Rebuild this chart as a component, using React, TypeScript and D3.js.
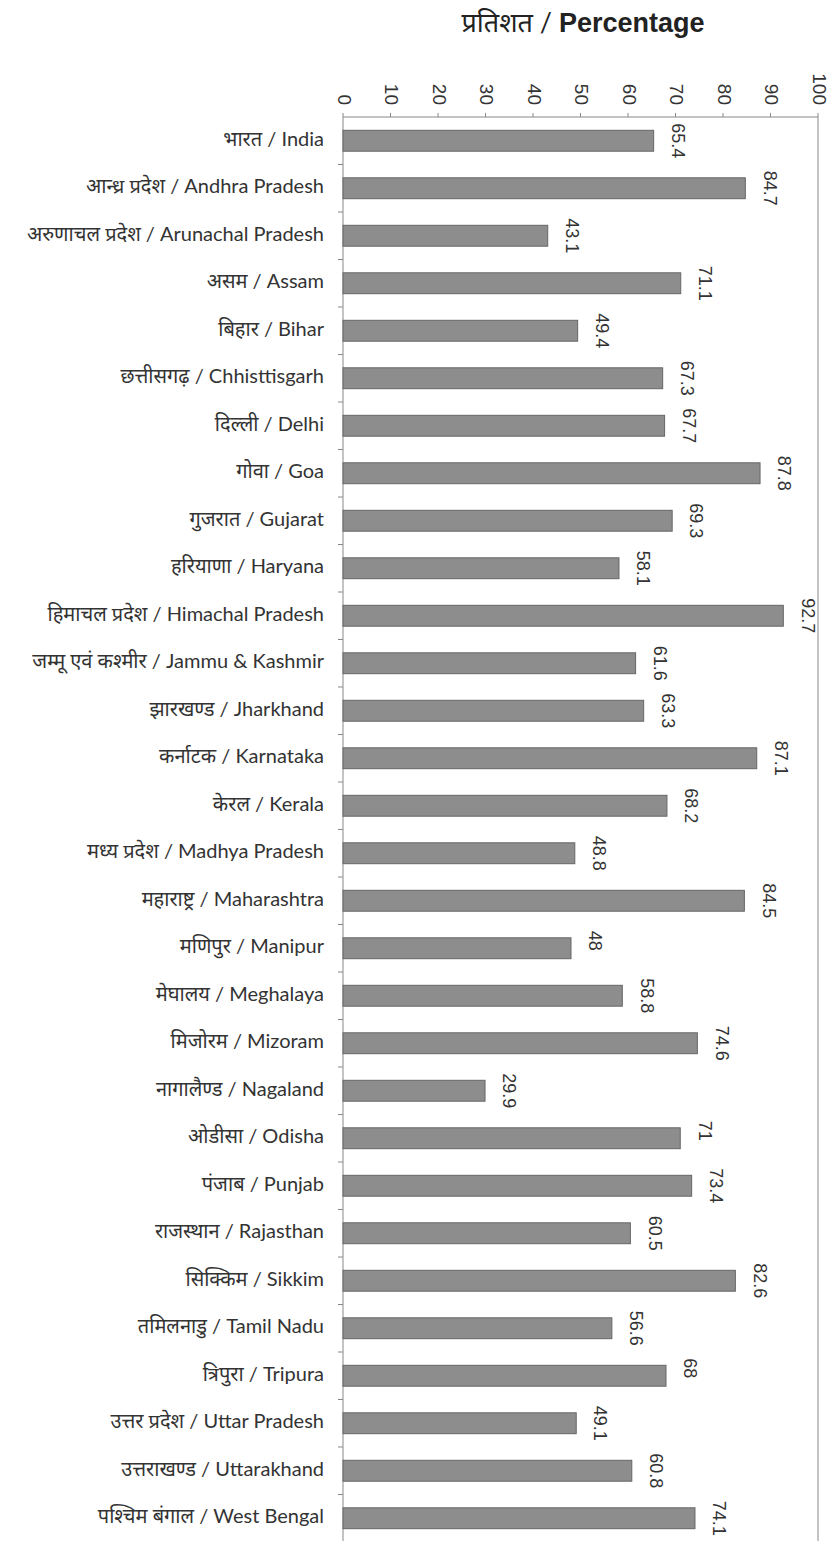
import React from "react";
import * as d3 from "d3";

const hindiNames = [
  "भारत", "आन्ध्र प्रदेश", "अरुणाचल प्रदेश", "असम", "बिहार", "छत्तीसगढ़", "दिल्ली", "गोवा",
  "गुजरात", "हरियाणा", "हिमाचल प्रदेश", "जम्मू एवं कश्मीर", "झारखण्ड", "कर्नाटक", "केरल",
  "मध्य प्रदेश", "महाराष्ट्र", "मणिपुर", "मेघालय", "मिजोरम", "नागालैण्ड", "ओडीसा", "पंजाब",
  "राजस्थान", "सिक्किम", "तमिलनाडु", "त्रिपुरा", "उत्तर प्रदेश", "उत्तराखण्ड", "पश्चिम बंगाल",
];
const englishNames = [
  "India", "Andhra Pradesh", "Arunachal Pradesh", "Assam", "Bihar", "Chhisttisgarh", "Delhi", "Goa",
  "Gujarat", "Haryana", "Himachal Pradesh", "Jammu & Kashmir", "Jharkhand", "Karnataka", "Kerala",
  "Madhya Pradesh", "Maharashtra", "Manipur", "Meghalaya", "Mizoram", "Nagaland", "Odisha", "Punjab",
  "Rajasthan", "Sikkim", "Tamil Nadu", "Tripura", "Uttar Pradesh", "Uttarakhand", "West Bengal",
];
const values = [
  65.4, 84.7, 43.1, 71.1, 49.4, 67.3, 67.7, 87.8, 69.3, 58.1, 92.7, 61.6, 63.3, 87.1, 68.2,
  48.8, 84.5, 48, 58.8, 74.6, 29.9, 71, 73.4, 60.5, 82.6, 56.6, 68, 49.1, 60.8, 74.1,
];
const tickValues = [0, 10, 20, 30, 40, 50, 60, 70, 80, 90, 100];
const titleHindi = "प्रतिशत";
const titleEnglish = "Percentage";

const W = 830;
const H = 1541;
const left = 343;
const right = 818;
const top = 117;
const step = 47.5;

export default function App() {
  const categories = englishNames;
  const x = d3.scaleLinear().domain([0, 100]).range([left, right]);
  const y = d3
    .scaleBand<string>()
    .domain(categories)
    .range([top, top + step * categories.length])
    .paddingInner(0.56)
    .paddingOuter(0.28);
  const st = y.step();
  const labelFont = "Lato, 'Noto Sans', 'Noto Sans Devanagari', sans-serif";

  return (
    <svg
      width={W}
      height={H}
      style={{ position: "absolute", left: 0, top: 0, background: "#fff", display: "block" }}
    >
      <rect x={0} y={0} width={W} height={H} fill="#fff" />
      {/* title */}
      <text x={583} y={32} textAnchor="middle" fill="#222" style={{ fontFamily: "Arial, 'Liberation Sans', sans-serif" }}>
        <tspan fontSize={27} fontFamily={labelFont}>{titleHindi}</tspan>
        <tspan fontSize={27} fontFamily={labelFont}>{" / "}</tspan>
        <tspan fontSize={27} fontWeight="bold">{titleEnglish}</tspan>
      </text>

      {/* frame lines */}
      <line x1={left} x2={right} y1={top} y2={top} stroke="#888" strokeWidth={1} />
      <line x1={left} x2={left} y1={top} y2={H} stroke="#888" strokeWidth={1} />
      <line x1={right} x2={right} y1={top} y2={H} stroke="#888" strokeWidth={1} />

      {/* top axis ticks */}
      {tickValues.map((t) => (
        <g key={"t" + t}>
          <line x1={x(t)} x2={x(t)} y1={top - 4} y2={top} stroke="#888" />
          <text
            transform={`translate(${x(t)},${105}) rotate(90)`}
            textAnchor="end"
            dominantBaseline="middle"
            fontSize={19}
            fill="#333"
            fontFamily="Arial, 'Liberation Sans', sans-serif"
          >
            {t}
          </text>
        </g>
      ))}

      {/* left boundary ticks */}
      {d3.range(1, categories.length + 1).map((i) => (
        <line key={"b" + i} x1={left - 5} x2={left} y1={top + st * i} y2={top + st * i} stroke="#888" />
      ))}

      {/* bars */}
      {categories.map((c, i) => (
        <rect
          key={"r" + c}
          x={x(0)}
          y={y(c)!}
          width={x(values[i]) - x(0)}
          height={y.bandwidth()}
          fill="#8d8d8d"
          stroke="#666"
          strokeWidth={1}
        />
      ))}

      {/* value labels */}
      {categories.map((c, i) => (
        <text
          key={"v" + c}
          transform={`translate(${x(values[i]) + 23},${y(c)! - 7}) rotate(90)`}
          textAnchor="start"
          dominantBaseline="middle"
          fontSize={18}
          fill="#333"
          fontFamily="Arial, 'Liberation Sans', sans-serif"
        >
          {String(values[i])}
        </text>
      ))}

      {/* category labels */}
      {categories.map((c, i) => (
        <text
          key={"l" + c}
          x={324}
          y={y(c)! + y.bandwidth() / 2}
          textAnchor="end"
          dominantBaseline="middle"
          fontSize={20}
          fill="#333"
          fontFamily={labelFont}
        >
          {hindiNames[i] + " / " + englishNames[i]}
        </text>
      ))}
    </svg>
  );
}
